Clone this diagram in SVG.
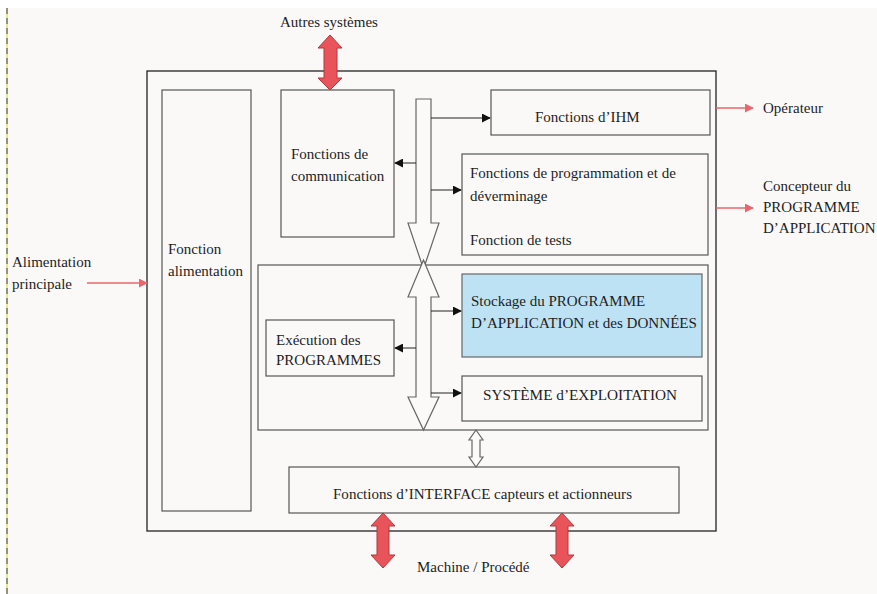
<svg xmlns="http://www.w3.org/2000/svg" width="877" height="594" viewBox="0 0 877 594">
<defs>
<style>
text{font-family:"Liberation Serif","Times New Roman",serif;font-size:15px;fill:#1e1e1e}
.box{fill:none;stroke:#555;stroke-width:1.2}
.bus{fill:#fbfaf9;stroke:#666;stroke-width:1.2}
.red{fill:#e9545a;stroke:#b0383c;stroke-width:1}
.pk{stroke:#e8666c;stroke-width:1.5;fill:none}
.bl{stroke:#222;stroke-width:1;fill:none}
</style>
<marker id="ah" viewBox="0 0 10 10" refX="9" refY="5" markerWidth="9" markerHeight="9" markerUnits="userSpaceOnUse" orient="auto"><path d="M0,0L10,5L0,10z" fill="#111"/></marker>
<marker id="ap" viewBox="0 0 10 10" refX="9" refY="5" markerWidth="9" markerHeight="9" markerUnits="userSpaceOnUse" orient="auto"><path d="M0,0L10,5L0,10z" fill="#e8666c"/></marker>
</defs>
<rect x="0" y="0" width="877" height="594" fill="#ffffff"/>
<rect x="7" y="8" width="870" height="586" fill="#faf9f8"/>
<line x1="7" y1="8" x2="7" y2="594" stroke="#e8e88c" stroke-width="2"/>
<line x1="7" y1="8" x2="7" y2="594" stroke="#777" stroke-width="1.5" stroke-dasharray="6,4"/>

<g id="outer"><rect x="147" y="71" width="569" height="460" fill="none" stroke="#222" stroke-width="1.3"/></g>
<g id="inner"><rect x="258" y="265" width="450" height="165" class="box"/></g>

<g id="alimentation"><rect x="162" y="90" width="89" height="421" class="box"/>
<text x="168" y="254">Fonction</text><text x="168" y="276">alimentation</text></g>
<g id="communication"><rect x="281" y="90" width="113" height="147" class="box"/>
<text x="291" y="159">Fonctions de</text><text x="291" y="181">communication</text></g>
<g id="ihm"><rect x="491" y="90" width="219" height="45" class="box"/>
<text x="535" y="122">Fonctions d’IHM</text></g>
<g id="programmation"><rect x="462" y="154" width="246" height="101" class="box"/>
<text x="470" y="178">Fonctions de programmation et de</text><text x="470" y="201">déverminage</text><text x="470" y="245">Fonction de tests</text></g>
<g id="stockage"><rect x="462" y="274" width="240" height="83" fill="#bde2f4" stroke="#666" stroke-width="1.2"/>
<text x="471" y="306">Stockage du PROGRAMME</text><text x="471" y="328" textLength="226" lengthAdjust="spacingAndGlyphs">D’APPLICATION et des DONNÉES</text></g>
<g id="systeme"><rect x="462" y="376" width="240" height="45" class="box"/>
<text x="483" y="400" textLength="194" lengthAdjust="spacingAndGlyphs">SYSTÈME d’EXPLOITATION</text></g>
<g id="execution"><rect x="266" y="320" width="128" height="56" class="box"/>
<text x="276" y="345">Exécution des</text><text x="276" y="365">PROGRAMMES</text></g>
<g id="interface"><rect x="289" y="467" width="390" height="46" class="box"/>
<text x="333" y="499" textLength="299" lengthAdjust="spacingAndGlyphs">Fonctions d’INTERFACE capteurs et actionneurs</text></g>

<g id="labels">
<text x="280" y="27">Autres systèmes</text>
<text x="763" y="113">Opérateur</text>
<text x="763" y="191">Concepteur du</text><text x="763" y="212">PROGRAMME</text><text x="763" y="233">D’APPLICATION</text>
<text x="12" y="267">Alimentation</text><text x="12" y="289">principale</text>
<text x="417" y="572">Machine / Procédé</text>
</g>

<g id="connectors">
<path class="bus" d="M416,99H431V223H439L423.5,269L408,223H416Z"/>
<path class="bus" d="M423.5,260L439,297H431V397H439L423.5,430L408,397H416V297H408Z"/>
<path class="bus" d="M476,430L483,440H480V457H483L476,467L469,457H472V440H469Z"/>
<line class="bl" x1="431" y1="118" x2="490" y2="118" marker-end="url(#ah)"/>
<line class="bl" x1="416" y1="163" x2="395" y2="163" marker-end="url(#ah)"/>
<line class="bl" x1="431" y1="190" x2="461" y2="190" marker-end="url(#ah)"/>
<line class="bl" x1="431" y1="311" x2="461" y2="311" marker-end="url(#ah)"/>
<line class="bl" x1="416" y1="348" x2="395" y2="348" marker-end="url(#ah)"/>
<line class="bl" x1="431" y1="393" x2="461" y2="393" marker-end="url(#ah)"/>
<path class="red" d="M330,35L342,48H337V78H342L330,90L318,78H324V48H318Z"/>
<path class="red" d="M383,513L395,526H389V555H395L383,568L371,555H377V526H371Z"/>
<path class="red" d="M562,513L574,526H568V555H574L562,568L550,555H556V526H550Z"/>
<line class="pk" x1="716" y1="108" x2="753" y2="108" marker-end="url(#ap)"/>
<line class="pk" x1="716" y1="208" x2="753" y2="208" marker-end="url(#ap)"/>
<line class="pk" x1="87" y1="283" x2="147" y2="283" marker-end="url(#ap)"/>
</g>
</svg>
